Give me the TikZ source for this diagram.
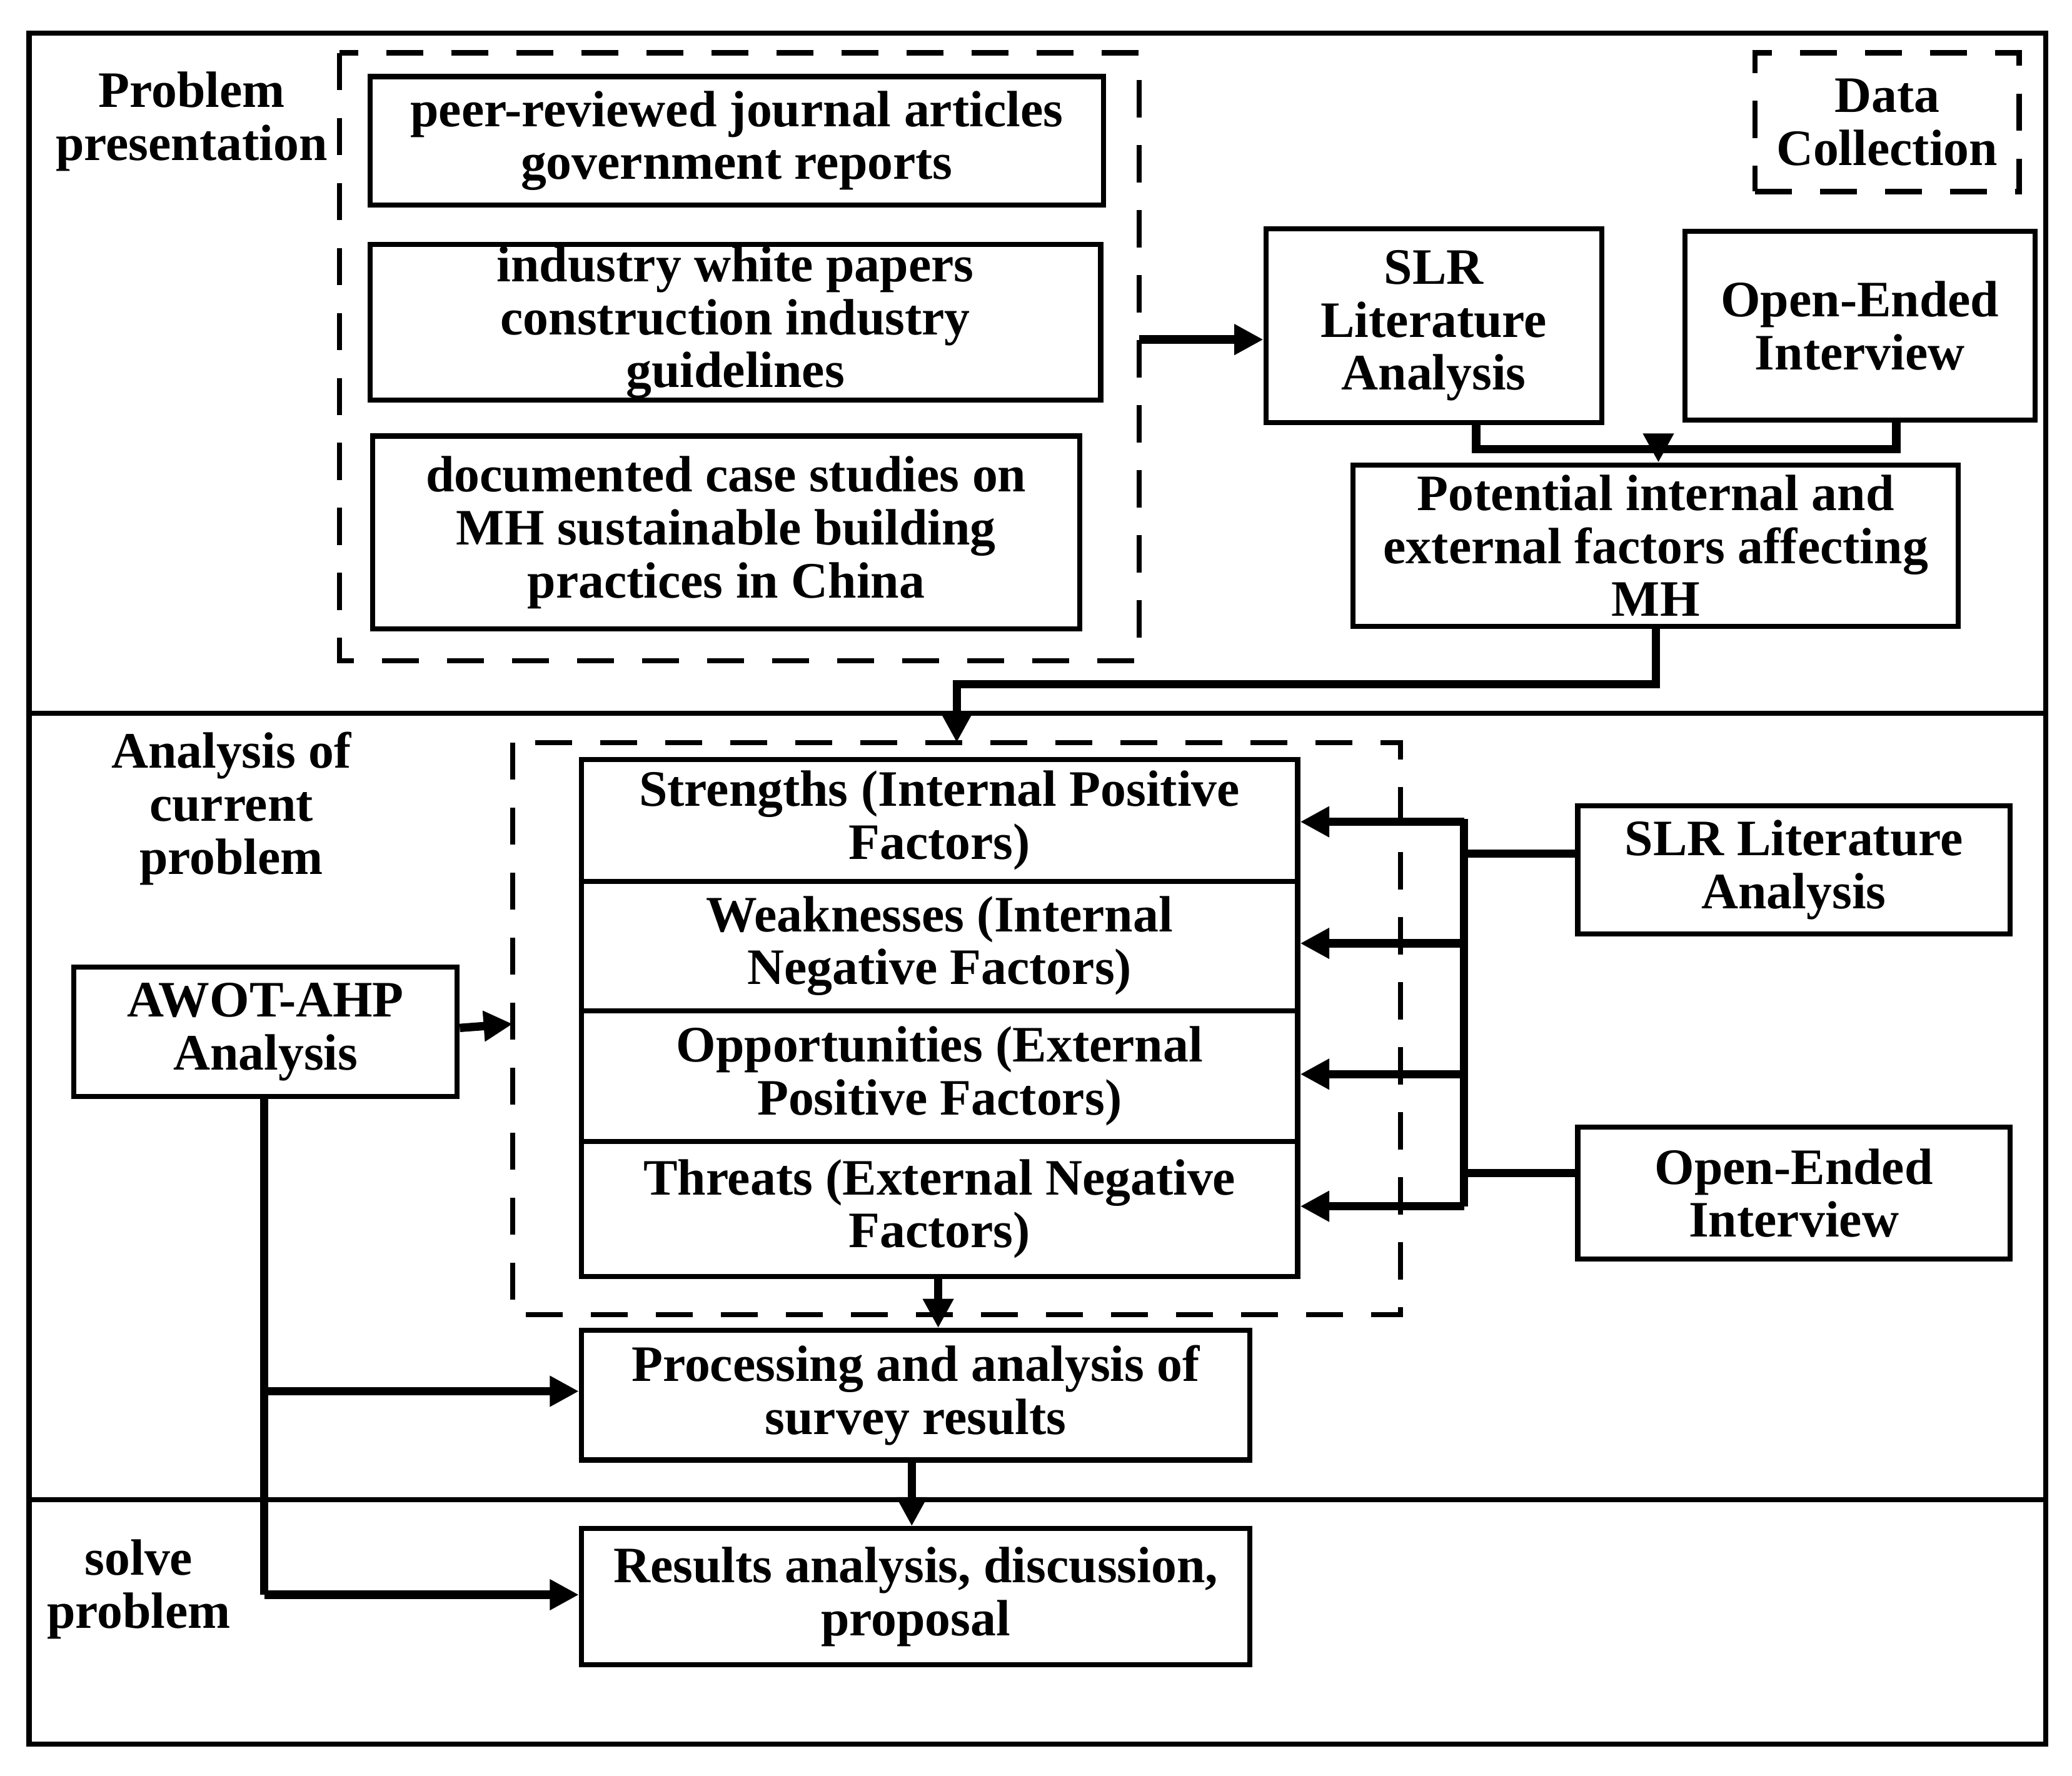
\documentclass[tikz,border=0pt]{standalone}
\usepackage{fontspec}
\setmainfont{Liberation Serif}
\usetikzlibrary{arrows.meta}
\begin{document}
\begin{tikzpicture}[x=0.1mm,y=-0.1mm,
  box/.style={draw,line width=1.1pt,align=center,inner sep=0pt,font=\fontsize{11}{11.4}\selectfont\bfseries},
  lbl/.style={align=center,font=\fontsize{11}{11.4}\selectfont\bfseries},
  dbox/.style={draw,line width=1.1pt,dash pattern=on 8pt off 6pt},
  con/.style={line width=1.8pt},
  arr/.style={line width=1.8pt,-{Triangle[length=2.2mm,width=2.2mm]}}]
\useasboundingbox (0,0) rectangle (1568,1344);
\draw[line width=1.1pt] (22,25) rectangle (1548,1320);
\draw[line width=1.1pt] (22,540) -- (1548,540) (22,1135) -- (1548,1135);
\node[lbl] (l1) at (145,92) {Problem\\presentation};
\node[lbl] (l2) at (175,612) {Analysis of\\current\\problem};
\node[lbl] (l3) at (105,1203) {solve\\problem};
\draw[dbox] (257,40) rectangle (862,500);
\draw[dbox] (388,562) rectangle (1060,995);
\node[box,dash pattern=on 8pt off 6pt,minimum width=20mm,minimum height=10.5mm] (dc) at (1428,92.5) {Data\\Collection};
\node[box,minimum width=55.5mm,minimum height=9.7mm] (b1) at (557.5,106.5) {peer-reviewed journal articles\\government reports};
\node[box,minimum width=55.3mm,minimum height=11.8mm] (b2) at (556.5,244) {industry white papers\\construction industry\\guidelines};
\node[box,minimum width=53.5mm,minimum height=14.6mm] (b3) at (549.5,403) {documented case studies on\\MH sustainable building\\practices in China};
\node[box,minimum width=25.4mm,minimum height=14.7mm] (slr) at (1085,246.5) {SLR\\Literature\\Analysis};
\node[box,minimum width=26.5mm,minimum height=14.3mm] (oe) at (1407.5,246.5) {Open-Ended\\Interview};
\node[box,minimum width=45.8mm,minimum height=12.2mm] (pot) at (1253,413) {Potential internal and\\external factors affecting\\MH};
\node[box,minimum width=54.2mm,minimum height=9.2mm] (s) at (711,621) {Strengths (Internal Positive\\Factors)};
\node[box,minimum width=54.2mm,minimum height=9.8mm] (w) at (711,716) {Weaknesses (Internal\\Negative Factors)};
\node[box,minimum width=54.2mm,minimum height=9.9mm] (o) at (711,814.5) {Opportunities (External\\Positive Factors)};
\node[box,minimum width=54.2mm,minimum height=10.2mm] (t) at (711,915) {Threats (External Negative\\Factors)};
\node[box,minimum width=32.7mm,minimum height=9.7mm] (slr2) at (1357.5,658.5) {SLR Literature\\Analysis};
\node[box,minimum width=32.7mm,minimum height=10mm] (oe2) at (1357.5,903) {Open-Ended\\Interview};
\node[box,minimum width=29mm,minimum height=9.8mm] (aw) at (201,781) {AWOT-AHP\\Analysis};
\node[box,minimum width=50.6mm,minimum height=9.8mm] (pr) at (693,1056) {Processing and analysis of\\survey results};
\node[box,minimum width=50.6mm,minimum height=10.3mm] (rs) at (693,1208.5) {Results analysis, discussion,\\proposal};
\coordinate (dl) at (862,257);
\draw[arr] (dl) -- (slr.west |- dl);
\draw[con] (slr.south -| 1117,0) -- (1117,340) -- (1435,340) -- (oe.south -| 1435,0);
\draw[arr] (1255,340) -- (pot.north -| 1255,0);
\coordinate (tg) at (724,562);
\draw[arr] (pot.south -| 1253,0) -- (1253,518) -- (724,518) -- (tg);
\draw[con] (1108,620) -- (1108,913);
\draw[con] (slr2.west |- 0,646) -- (1108,646);
\draw[con] (oe2.west |- 0,888) -- (1108,888);
\foreach \n/\yy in {s/622,w/714,o/813,t/913} \draw[arr] (1108,\yy) -- (\n.east |- 0,\yy);
\coordinate (dw) at (388,775);
\draw[arr] (aw.east |- 0,778) -- (dw);
\draw[con] (aw.south -| 200,0) -- (200,1207);
\draw[arr] (200,1053) -- (pr.west |- 0,1053);
\draw[arr] (200,1207) -- (rs.west |- 0,1207);
\draw[arr] (t.south -| 710,0) -- (pr.north -| 710,0);
\draw[arr] (pr.south -| 690,0) -- (rs.north -| 690,0);
\end{tikzpicture}
\end{document}
